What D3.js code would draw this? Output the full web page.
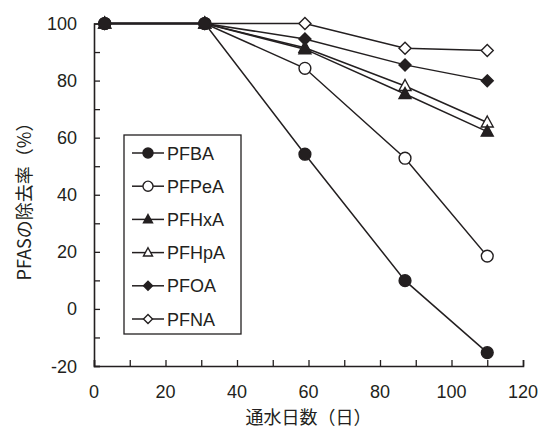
<!DOCTYPE html>
<html>
<head>
<meta charset="utf-8">
<style>
  body { margin: 0; background: #fff; }
  text { font-family: "Liberation Sans", Arial, sans-serif; fill: #231f20; }
</style>
</head>
<body>
<script src="https://d3js.org/d3.v7.min.js"></script>
<script>
// days of water flow
const DAYS = [3, 31, 59, 87, 110];
const PFBA = [100, 100, 54.2, 9.9, -15.3];
const PFPeA = [100, 100, 84.3, 52.8, 18.5];
const PFHxA = [100, 100, 91, 75.3, 62.1];
const PFHpA = [100, 100, 91.5, 78.1, 65.3];
const PFOA = [100, 100, 94.6, 85.5, 79.9];
const PFNA = [100, 100, 100, 91.3, 90.5];
const X_TICKS = [0, 20, 40, 60, 80, 100, 120];
const Y_TICKS = [-20, 0, 20, 40, 60, 80, 100];

const series = [
  { name: 'PFBA', values: PFBA, shape: 'circle', fill: '#231f20' },
  { name: 'PFPeA', values: PFPeA, shape: 'circle', fill: '#fff' },
  { name: 'PFHxA', values: PFHxA, shape: 'triangle', fill: '#231f20' },
  { name: 'PFHpA', values: PFHpA, shape: 'triangle', fill: '#fff' },
  { name: 'PFOA', values: PFOA, shape: 'diamond', fill: '#231f20' },
  { name: 'PFNA', values: PFNA, shape: 'diamond', fill: '#fff' }
];

const W = 548, H = 430;
const svg = d3.select('body').append('svg').attr('width', W).attr('height', H);
const INK = '#231f20';

const x = d3.scaleLinear().domain([0, 120]).range([94, 523]);
const y = d3.scaleLinear().domain([-20, 100]).range([366, 23.5]);

// axes, ticks point inward
const xAxis = d3.axisBottom(x).tickValues(d3.range(0, 121, 10)).tickSize(-6).tickFormat('');
const yAxis = d3.axisLeft(y).tickValues(d3.range(-20, 101, 10)).tickSize(-6).tickFormat('');

const gx = svg.append('g').attr('transform', `translate(0,${y(-20)})`).call(xAxis);
const gy = svg.append('g').attr('transform', `translate(${x(0)},0)`).call(yAxis);
[gx, gy].forEach(g => {
  g.select('.domain').attr('stroke', INK).attr('stroke-width', 1.6);
  g.selectAll('.tick line').attr('stroke', INK).attr('stroke-width', 1.3);
});

svg.append('g').selectAll('text').data(X_TICKS).join('text')
  .attr('x', d => x(d)).attr('y', 398)
  .attr('text-anchor', 'middle').attr('font-size', 18)
  .text(d => d);

svg.append('g').selectAll('text').data(Y_TICKS).join('text')
  .attr('x', 77).attr('y', d => y(d) + 6.5)
  .attr('text-anchor', 'end').attr('font-size', 18)
  .text(d => d);

svg.append('text')
  .attr('x', x(60)).attr('y', 424)
  .attr('text-anchor', 'middle').attr('font-size', 18)
  .style('font-family', '"Noto Sans CJK JP", sans-serif')
  .text('通水日数（日）');

svg.append('text')
  .attr('transform', 'translate(31,197) rotate(-90)')
  .attr('text-anchor', 'middle').attr('font-size', 18)
  .style('font-family', '"Noto Sans CJK JP", sans-serif')
  .text('PFASの除去率（%）');

// marker paths
function marker(shape) {
  if (shape === 'circle') return d3.symbol(d3.symbolCircle, 110)();
  if (shape === 'triangle') return 'M0,-6.5L6,4.5L-6,4.5Z';
  return 'M0,-6L6,0L0,6L-6,0Z';
}

const line = d3.line().x((d, i) => x(DAYS[i])).y(d => y(d));

// draw back to front
const order = series.slice().reverse();
order.forEach(s => {
  svg.append('path').datum(s.values)
    .attr('d', line).attr('fill', 'none')
    .attr('stroke', INK).attr('stroke-width', 1.5);
});
order.forEach(s => {
  svg.append('g').selectAll('path').data(s.values).join('path')
    .attr('transform', (d, i) => `translate(${x(DAYS[i])},${y(d)})`)
    .attr('d', marker(s.shape))
    .attr('fill', s.fill).attr('stroke', INK).attr('stroke-width', 1.4);
});

// legend
const lg = svg.append('g');
lg.append('rect').attr('x', 124).attr('y', 135).attr('width', 117).attr('height', 199)
  .attr('fill', '#fff').attr('stroke', INK).attr('stroke-width', 1.3);
const rowY = d3.scaleLinear().domain([0, 5]).range([153, 319]);
series.forEach((s, i) => {
  const ry = rowY(i);
  lg.append('line').attr('x1', 132).attr('x2', 164).attr('y1', ry).attr('y2', ry)
    .attr('stroke', INK).attr('stroke-width', 1.5);
  const sc = s.shape === 'circle' ? 0.85 : 0.75;
  lg.append('path').attr('transform', `translate(148,${ry}) scale(${sc})`)
    .attr('d', marker(s.shape))
    .attr('fill', s.fill).attr('stroke', INK).attr('stroke-width', 1.4 / sc);
  lg.append('text').attr('x', 167).attr('y', ry + 6.5)
    .attr('font-size', 18).text(s.name);
});
</script>
</body>
</html>
